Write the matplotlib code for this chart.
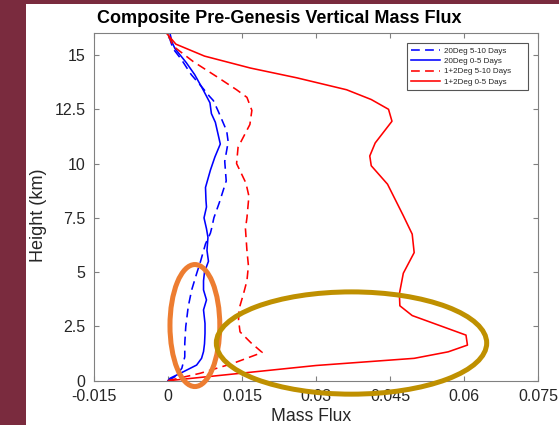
import matplotlib
matplotlib.use("Agg")
import matplotlib.pyplot as plt
from matplotlib.patches import Ellipse, Rectangle

plt.rcParams["font.family"] = ["Liberation Sans", "DejaVu Sans"]

# mass flux profiles (x = flux, y = height km)
red_solid_h = [0, 0.7, 1.03, 1.33, 1.64, 2.10, 3.0, 3.45, 4.0, 4.95, 5.9, 6.75, 7.6, 9.05,
               9.9, 10.35, 10.95, 11.95, 12.5, 12.95, 13.4, 13.95, 14.4, 14.95, 15.5, 16.0]
red_solid_x = [0.0001, 0.030, 0.0499, 0.0568, 0.0607, 0.0604, 0.0495, 0.0470, 0.0469, 0.0477,
               0.0499, 0.0495, 0.0477, 0.0445, 0.0412, 0.0409, 0.0420, 0.0454, 0.0447, 0.0412,
               0.0362, 0.0261, 0.0167, 0.0074, 0.0016, -0.0003]

red_dash_h = [0, 0.34, 0.80, 1.30, 1.75, 2.25, 2.8, 3.3, 4.0, 4.6, 5.3, 6.0, 7.0, 7.5, 8.5,
              9.1, 10.0, 10.75, 11.8, 12.45, 13.05, 13.4, 14.0, 14.7, 15.4, 16.0]
red_dash_x = [0.0, 0.0065, 0.0132, 0.0191, 0.0168, 0.0146, 0.0143, 0.0144, 0.0153, 0.0160,
              0.0163, 0.0160, 0.0157, 0.0160, 0.0164, 0.0158, 0.0139, 0.0142, 0.0166, 0.0170,
              0.0160, 0.0139, 0.0099, 0.0051, 0.0011, -0.0001]

blue_solid_h = [0, 0.11, 0.41, 0.72, 1.03, 1.34, 1.7, 2.18, 2.64, 3.26, 3.72, 4.18, 4.6, 5.0,
                5.5, 6.0, 6.6, 7.0, 7.5, 8.0, 8.3, 8.9, 9.7, 10.3, 10.9, 11.9, 12.3, 12.8,
                13.45, 14.1, 14.65, 15.3, 15.6, 16.0]
blue_solid_x = [0.0, 0.0004, 0.0031, 0.0058, 0.0068, 0.0072, 0.0074, 0.0075, 0.0075, 0.0072,
                0.0078, 0.0072, 0.0072, 0.0074, 0.0082, 0.0079, 0.0081, 0.0078, 0.0073,
                0.0078, 0.0077, 0.0076, 0.0086, 0.0095, 0.0106, 0.0096, 0.0088, 0.0085,
                0.0070, 0.0054, 0.0037, 0.0014, 0.0008, 0.0004]

blue_dash_h = [0, 0.2, 0.57, 1.1, 1.72, 2.49, 3.41, 4.18, 4.93, 5.5, 6.3, 6.8, 7.07, 7.5, 8.2,
               9.2, 10.1, 11.0, 11.5, 12.4, 12.9, 13.1, 13.6, 14.1, 14.8, 15.3, 16.0]
blue_dash_x = [0.0, 0.0015, 0.0028, 0.0034, 0.0034, 0.0036, 0.0041, 0.0048, 0.0058, 0.0066,
               0.0076, 0.0086, 0.0089, 0.0093, 0.0104, 0.0118, 0.0115, 0.0122, 0.0119,
               0.0102, 0.0092, 0.0084, 0.0066, 0.0047, 0.0027, 0.0010, 0.0000]

x_ticks = [-0.015, 0, 0.015, 0.03, 0.045, 0.06, 0.075]
x_tick_labels = ["-0.015", "0", "0.015", "0.03", "0.045", "0.06", "0.075"]
y_ticks = [0, 2.5, 5, 7.5, 10, 12.5, 15]
y_tick_labels = ["0", "2.5", "5", "7.5", "10", "12.5", "15"]

# highlight ellipses drawn over the chart: (center x, center y, width, height)
orange_ring = (0.00545, 2.54, 0.0101, 5.62)
gold_ring = (0.0372, 1.735, 0.0548, 4.71)

MAROON = "#7a2b3e"
TEXT = "#262626"
SPINE = "#808080"

fig = plt.figure(figsize=(5.59, 4.25), dpi=100, facecolor=MAROON)
fig.add_artist(Rectangle((26 / 559, 0), 1, (425 - 4) / 425, transform=fig.transFigure,
                         facecolor="white", edgecolor="none", zorder=0))

ax = fig.add_axes([94 / 559, 44.3 / 425, 444 / 559, 347.4 / 425])
ax.set_facecolor("white")

dash = (5.5, 3.3)
lw = 1.15
ax.plot(blue_dash_x, blue_dash_h, color="#0000ff", lw=lw, dashes=dash, label="20Deg 5-10 Days")
ax.plot(blue_solid_x, blue_solid_h, color="#0000ff", lw=lw, label="20Deg 0-5 Days")
ax.plot(red_dash_x, red_dash_h, color="#ff0000", lw=lw, dashes=dash, label="1+2Deg 5-10 Days")
ax.plot(red_solid_x, red_solid_h, color="#ff0000", lw=lw, label="1+2Deg 0-5 Days")

ax.set_xlim(-0.015, 0.075)
ax.set_ylim(0, 16)
ax.set_xticks(x_ticks)
ax.set_xticklabels(x_tick_labels)
ax.set_yticks(y_ticks)
ax.set_yticklabels(y_tick_labels)
ax.tick_params(direction="in", top=True, right=True, length=3.5, width=0.8,
               color=SPINE, labelcolor=TEXT, labelsize=11.5)
ax.tick_params(axis="x", pad=6)
ax.tick_params(axis="y", pad=6)
for s in ax.spines.values():
    s.set_color(SPINE)
    s.set_linewidth(0.8)

ax.set_xlabel("Mass Flux", fontsize=12.7, color=TEXT)
ax.xaxis.set_label_coords(0.49, -0.103)
ax.xaxis.label.set_va("center")
ax.set_ylabel("Height (km)", fontsize=13, color=TEXT)
ax.yaxis.set_label_coords(-0.124, 0.477)
ax.yaxis.label.set_va("center")

fig.text(279.7 / 559, 1 - 18.5 / 425, "Composite Pre-Genesis Vertical Mass Flux",
         ha="center", va="center", fontsize=13, fontweight="bold", color="black")

leg = ax.legend(loc="upper left", bbox_to_anchor=(0.704, 0.842, 0.274, 0.129),
                mode="expand", borderaxespad=0, fontsize=5.8, handlelength=3.7,
                handletextpad=0.4, labelspacing=0.32, borderpad=0.5,
                fancybox=False, framealpha=1)
leg.get_frame().set_edgecolor("#555555")
leg.get_frame().set_linewidth(0.8)
for t in leg.get_texts():
    t.set_color(TEXT)

for (cx, cy, w, h), col in [(orange_ring, "#ed7d31"), (gold_ring, "#bf9000")]:
    e = Ellipse((cx, cy), w, h, facecolor="none", edgecolor=col, lw=3.6,
                clip_on=False, zorder=5)
    ax.add_patch(e)

fig.savefig("out.png", dpi=100, facecolor=fig.get_facecolor())
